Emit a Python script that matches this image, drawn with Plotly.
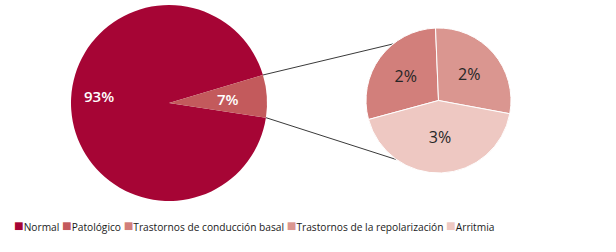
import math
import plotly.graph_objects as go

# ---- data ----
main_labels = ["Normal", "Patológico"]
main_values = [93, 7]
sub_labels = ["Trastornos de conducción basal", "Trastornos de la repolarización", "Arritmia"]
sub_values = [2, 2, 3]

# ---- style ----
main_colors = ["#A60535", "#C35A5C"]
sub_colors = ["#D27F7B", "#DA9690", "#EEC8C2"]
W, H = 616, 252
FONT = "Open Sans"

# geometry in page pixels (style)
main_c = (169, 103); main_r = 98
sub_c = (438.5, 100.5); sub_r = 72.5
main_rot = 98.6
sub_rot = 254.8
main_label_r = [0.72, 0.60]  # label radius fractions


def dom(c, r):
    return dict(x=[max(0, (c[0] - r) / W), min(1, (c[0] + r) / W)],
                y=[max(0, (H - c[1] - r) / H), min(1, (H - c[1] + r) / H)])


def pt(c, r, ang):
    a = math.radians(ang)
    x = c[0] + r * math.sin(a)
    y = c[1] - r * math.cos(a)
    return x / W, 1 - y / H


fig = go.Figure()
fig.add_trace(go.Pie(
    labels=main_labels, values=main_values, sort=False, direction="clockwise",
    rotation=main_rot, domain=dom(main_c, main_r),
    marker=dict(colors=main_colors, line=dict(width=0)),
    textinfo="none", showlegend=False, hoverinfo="label+value"))
fig.add_trace(go.Pie(
    labels=sub_labels, values=sub_values, sort=False, direction="clockwise",
    rotation=sub_rot, domain=dom(sub_c, sub_r),
    marker=dict(colors=sub_colors, line=dict(width=1, color="white")),
    texttemplate="%{value}%", textposition="inside", insidetextorientation="horizontal",
    textfont=dict(color="#262626", size=16, family=FONT), showlegend=False,
    hoverinfo="label+value"))

# main pie labels placed at slice mid-angles
tot = sum(main_values)
acc = main_rot
angles = []
for v in main_values:
    span = 360 * v / tot
    angles.append((acc, acc + span))
    acc += span
mid_angles = [(a + b) / 2 for a, b in angles]
mid_angles[0] += 10  # nudge large-slice label slightly upward like reference
for lab_v, a, rf in zip(main_values, mid_angles, main_label_r):
    x, y = pt(main_c, main_r * rf, a)
    fig.add_annotation(text=f"{lab_v}%", xref="paper", yref="paper", x=x, y=y,
                       xanchor="center", yanchor="middle", showarrow=False,
                       font=dict(size=15, color="white", family=FONT, weight=600))

# connector lines derived from the slice geometry
sub_attach = [321.3, 215.4]
for a_main, a_sub in [(angles[1][0], sub_attach[0]), (angles[1][1], sub_attach[1])]:
    x0, y0 = pt(main_c, main_r, a_main)
    x1, y1 = pt(sub_c, sub_r, a_sub)
    fig.add_shape(type="line", xref="paper", yref="paper", x0=x0, y0=y0, x1=x1, y1=y1,
                  line=dict(color="#3A3A3A", width=1), layer="below")

# legend as text
all_labels = main_labels + sub_labels
all_colors = main_colors + sub_colors
legend_txt = "".join(
    f"<span style='color:{c};font-size:16px'>■</span>{l} "
    for l, c in zip(all_labels, all_colors)).strip()
fig.add_annotation(text=legend_txt, xref="paper", yref="paper", x=12 / W,
                   y=1 - 225 / H, xanchor="left", yanchor="middle", showarrow=False,
                   font=dict(size=10.2, color="#1A1A1A", family=FONT))

fig.update_layout(width=W, height=H, margin=dict(l=0, r=0, t=0, b=0),
                  paper_bgcolor="white", plot_bgcolor="white", showlegend=False)
fig.write_html("out.html", post_script="document.body.style.margin='0';",
               config={"displayModeBar": False})
